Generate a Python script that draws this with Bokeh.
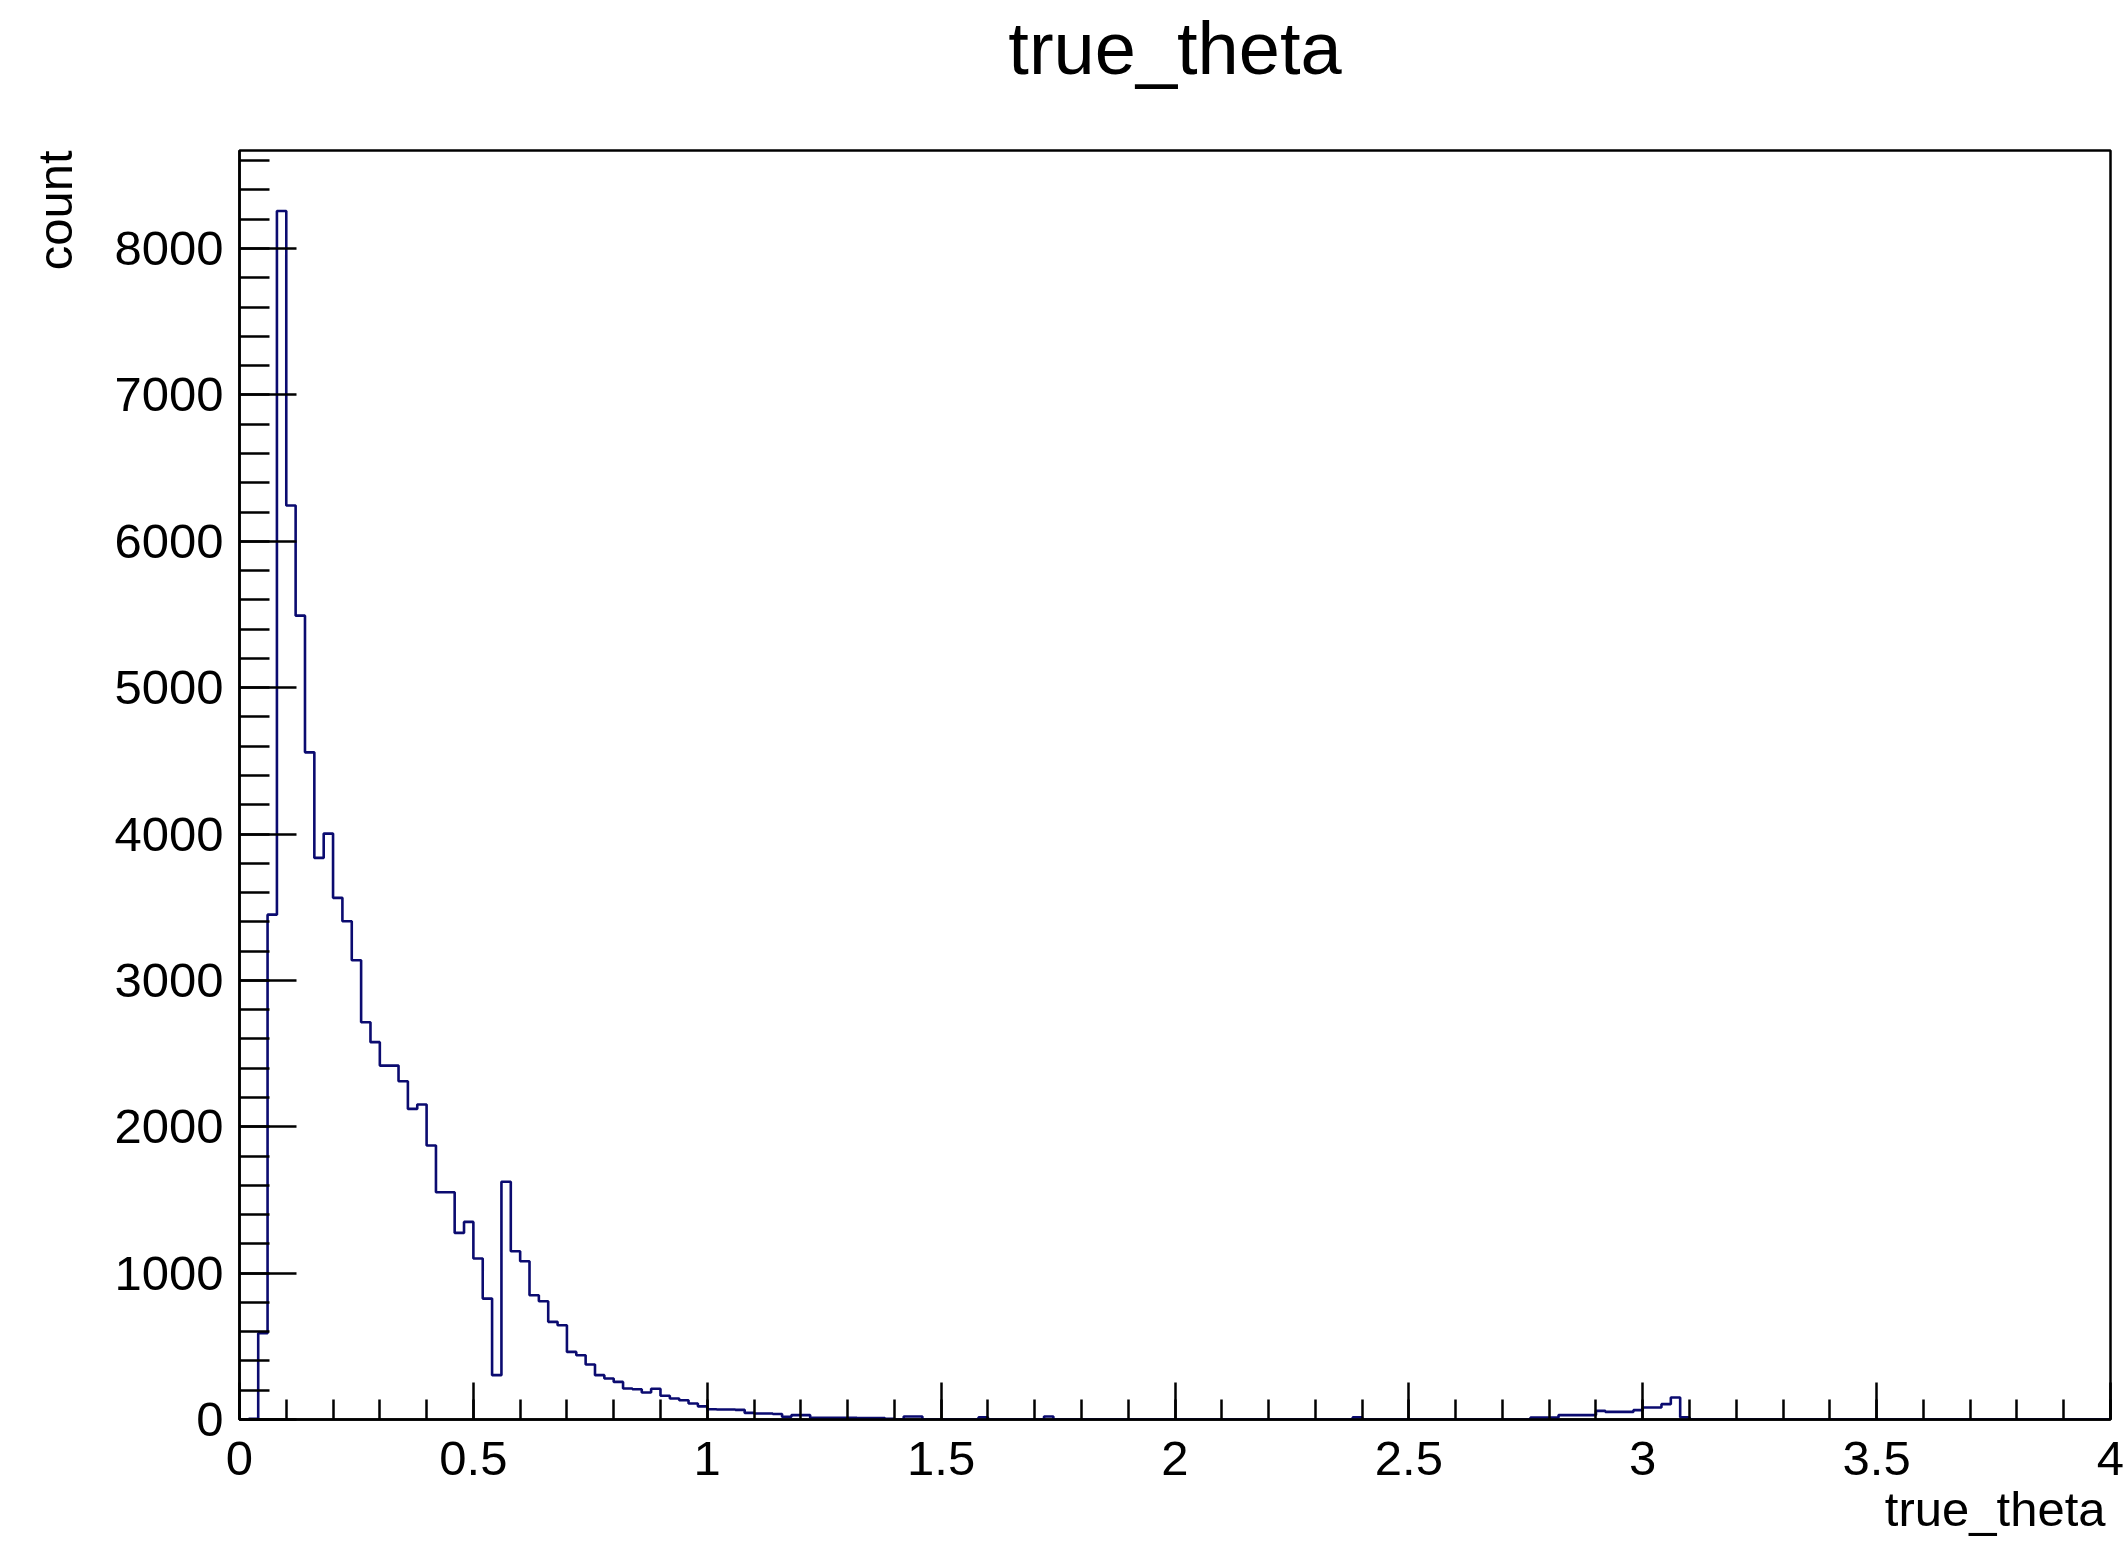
import numpy as np
from bokeh.plotting import figure
from bokeh.models import FixedTicker, Range1d, Title
from bokeh.embed import file_html
from bokeh.resources import INLINE

# ---- histogram definition (200 bins of 0.02 from 0 to 4) ----
x_min = 0.0
x_max = 4.0
bin_width = 0.02

counts_0_to_1 = [
    0, 5, 590, 3449, 8257, 6244, 5492, 4558, 3837, 4003,
    3564, 3404, 3138, 2714, 2578, 2418, 2418, 2311, 2122, 2152,
    1872, 1553, 1553, 1275, 1350, 1100, 826, 303, 1624, 1150,
    1081, 849, 808, 667, 644, 462, 439, 376, 303, 280,
    257, 212, 207, 184, 210, 162, 143, 132, 109, 90,
]
counts_1_to_2 = [
    70, 68, 68, 66, 45, 41, 41, 38, 18, 30,
    30, 12, 12, 11, 11, 11, 10, 10, 10, 5,
    0, 20, 20, 0, 0, 0, 0, 0, 0, 15,
    0, 0, 0, 0, 0, 0, 20, 0, 0, 0,
    0, 0, 0, 0, 0, 0, 0, 0, 0, 0,
]
counts_2_to_3 = [
    0, 0, 0, 0, 0, 0, 0, 0, 0, 0,
    0, 0, 0, 0, 0, 0, 0, 0, 0, 15,
    0, 0, 0, 0, 0, 0, 0, 0, 0, 0,
    0, 0, 0, 0, 0, 0, 0, 0, 14, 14,
    14, 30, 30, 30, 30, 59, 52, 52, 52, 64,
]
counts_3_to_4 = [
    82, 82, 105, 150, 15, 0, 0, 0, 0, 0,
    0, 0, 0, 0, 0, 0, 0, 0, 0, 0,
    0, 0, 0, 0, 0, 0, 0, 0, 0, 0,
    0, 0, 0, 0, 0, 0, 0, 0, 0, 0,
    0, 0, 0, 0, 0, 0, 0, 0, 0, 0,
]

x_major_ticks = [0, 0.5, 1, 1.5, 2, 2.5, 3, 3.5, 4]
x_tick_labels = ["0", "0.5", "1", "1.5", "2", "2.5", "3", "3.5", "4"]
x_minor_step = 0.1
y_major_ticks = [0, 1000, 2000, 3000, 4000, 5000, 6000, 7000, 8000]
y_tick_labels = ["0", "1000", "2000", "3000", "4000", "5000", "6000", "7000", "8000"]
y_minor_step = 200

title_text = "true_theta"
x_title = "true_theta"
y_title = "count"

# ---- build ----
counts = np.array(counts_0_to_1 + counts_1_to_2 + counts_2_to_3 + counts_3_to_4, dtype=float)
n_bins = len(counts)
edges = x_min + bin_width * np.arange(n_bins + 1)
step_y = np.append(counts, 0.0)
y_max = 1.05 * counts.max()

W, H = 2126, 1542
B_LEFT, B_RIGHT, B_TOP, B_BOTTOM = 239, 16, 150, 123

FONT = "Liberation Sans"
FS = "49px"

p = figure(width=W, height=H, output_backend="svg", toolbar_location=None,
           x_range=Range1d(x_min, x_max), y_range=Range1d(0, y_max),
           min_border_left=B_LEFT, min_border_right=B_RIGHT,
           min_border_top=B_TOP, min_border_bottom=B_BOTTOM,
           background_fill_color="white", border_fill_color="white")

p.step(x=edges, y=step_y, mode="after", line_color="#0b0b70", line_width=2.6)

p.xgrid.visible = False
p.ygrid.visible = False
p.outline_line_color = "black"
p.outline_line_width = 2.5

x_minor = [round(v * x_minor_step, 3) for v in range(0, 41)]
y_minor = list(range(0, int(y_max) + 1, y_minor_step))
p.xaxis.ticker = FixedTicker(ticks=x_major_ticks, minor_ticks=x_minor)
p.yaxis.ticker = FixedTicker(ticks=y_major_ticks, minor_ticks=y_minor)
p.xaxis.major_label_overrides = {float(t): l for t, l in zip(x_major_ticks, x_tick_labels)}
p.yaxis.major_label_overrides = {float(t): l for t, l in zip(y_major_ticks, y_tick_labels)}

for ax in (p.xaxis[0], p.yaxis[0]):
    ax.axis_line_color = "black"
    ax.axis_line_width = 2.5
    ax.major_tick_line_color = "black"
    ax.major_tick_line_width = 2.5
    ax.minor_tick_line_color = "black"
    ax.minor_tick_line_width = 2.5
    ax.major_tick_out = 0
    ax.minor_tick_out = 0
    ax.major_label_text_font = FONT
    ax.major_label_text_font_size = FS
    ax.major_label_text_color = "black"

p.xaxis.major_tick_in = 37
p.xaxis.minor_tick_in = 20
p.xaxis.major_label_standoff = 22
p.yaxis.major_tick_in = 57
p.yaxis.minor_tick_in = 30
p.yaxis.major_label_standoff = 16

def make_title(text, size, align, valign, standoff, offset=0):
    try:
        return Title(text=text, text_font=FONT, text_font_size=size,
                     text_font_style="normal", text_color="black",
                     align=align, vertical_align=valign, standoff=standoff, offset=offset)
    except Exception:
        return Title(text=text, text_font=FONT, text_font_size=size,
                     text_font_style="normal", text_color="black",
                     align=align, vertical_align=valign, standoff=0, offset=offset)

# x-axis title, right-aligned below the tick labels
p.add_layout(make_title(x_title, FS, "right", "bottom", 4, offset=5), "below")
# y-axis title, top-aligned, left of the tick labels
p.add_layout(make_title(y_title, FS, "right", "top", 55, offset=0), "left")

# main title: a small spacer panel next to the frame, then the title text
spacer = Title(text=" ", text_font_size="10px", standoff=46, text_color="white")
main_title = make_title(title_text, "74px", "center", "bottom", 4)
p.add_layout(spacer, "above")
p.add_layout(main_title, "above")

open("out.html", "w").write(file_html(p, INLINE))
